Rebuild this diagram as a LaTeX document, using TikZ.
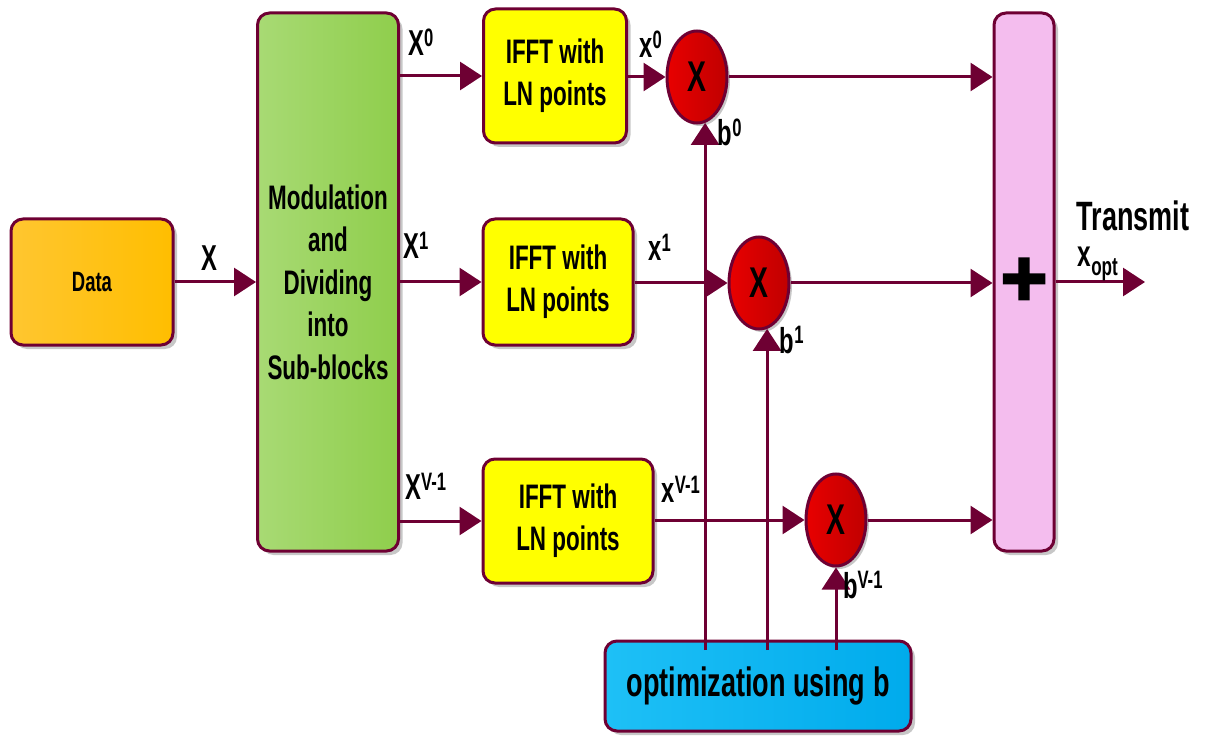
\documentclass[tikz,border=0pt]{standalone}
\usepackage{fontspec}
\setmainfont{Liberation Sans}[FakeStretch=0.66]
\newfontfamily\plusfont{Liberation Sans}[FakeBold=3]
\usetikzlibrary{arrows.meta,shapes.geometric,shadows}
\definecolor{mar}{HTML}{6E0033}
\definecolor{dataL}{HTML}{FFC630}
\definecolor{dataR}{HTML}{FFBE00}
\definecolor{modL}{HTML}{A8DA74}
\definecolor{modR}{HTML}{8FCE4C}
\definecolor{ifft}{HTML}{FFFF00}
\definecolor{mulL}{HTML}{E80000}
\definecolor{mulR}{HTML}{C00000}
\definecolor{sumc}{HTML}{F4BDEE}
\definecolor{optL}{HTML}{1EC0F6}
\definecolor{optR}{HTML}{00ABEC}
\newcommand{\fs}[1]{\fontsize{#1}{#1}\selectfont\bfseries}
\tikzset{
  blk/.style={draw=mar, line width=3pt, rounded corners=12pt, align=center, inner sep=0pt,
    drop shadow={shadow xshift=4pt, shadow yshift=-4pt, fill=black!22, opacity=1}},
  mul/.style={ellipse, draw=mar, line width=3pt, inner sep=0pt, minimum width=60pt, minimum height=92pt,
    left color=mulL, right color=mulR, font=\fs{43},
    drop shadow={shadow xshift=3pt, shadow yshift=-3pt, fill=black!22, opacity=1}},
  arr/.style={draw=mar, line width=3pt, -{Triangle[length=22pt,width=28pt]}},
  lab/.style={inner sep=0pt, font=\fs{36}},
}
\begin{document}
\begin{tikzpicture}[x=1pt,y=-1pt]
\useasboundingbox (0,0) rectangle (1216,738);

% blocks
\node[blk, left color=dataL, right color=dataR, minimum width=162pt, minimum height=126pt, font=\fs{28}] (data) at (92,282) {Data};
\node[blk, left color=modL, right color=modR, minimum width=141pt, minimum height=538pt, font=\fs{34}] (mod) at (328,282)
  {Modulation\\[8.5pt]and\\[8.5pt]Dividing\\[8.5pt]into\\[8.5pt]Sub-blocks};
\node[blk, fill=ifft, minimum width=143pt, minimum height=134pt, font=\fs{34}] (f1) at (555,76) {IFFT with\\[8pt]LN points};
\node[blk, fill=ifft, minimum width=150pt, minimum height=126pt, font=\fs{34}] (f2) at (558,282) {IFFT with\\[8pt]LN points};
\node[blk, fill=ifft, minimum width=170pt, minimum height=124pt, font=\fs{34}] (f3) at (568,521) {IFFT with\\[8pt]LN points};
\node[blk, fill=sumc, minimum width=60pt, minimum height=538pt, font=\plusfont\fontsize{80}{80}\selectfont\bfseries] (sum) at (1024,282) {+};

\node[mul] (m1) at (697,77) {X};
\node[mul] (m2) at (759,283) {X};
\node[mul] (m3) at (836,520) {X};

\coordinate (out) at (1145,282);

\node[blk, left color=optL, right color=optR, minimum width=306pt, minimum height=90pt, font=\fs{41}] (opt) at (758,686) {optimization using b};

% vertical control lines
\draw[arr] (m1.-80 |- 0,650) -- (m1.-80);
\draw[arr] (m2.-80 |- 0,650) -- (m2.-80);
\draw[arr] (m3.south |- 0,650) -- (m3.south);

% connectors
\draw[arr] (data) -- (mod);
\draw[arr] (mod.east |- f1.west) -- (f1.west);
\draw[arr] (mod.east |- f2.west) -- (f2.west);
\draw[arr] (mod.east |- f3.west) -- (f3.west);
\draw[arr] (f1.east |- m1.west) -- (m1.west);
\draw[arr] (f2.east |- m2.west) -- (m2.west);
\draw[arr] (f3.east |- m3.west) -- (m3.west);
\draw[arr] (m1.east) -- (m1.east -| sum.west);
\draw[arr] (m2.east) -- (m2.east -| sum.west);
\draw[arr] (m3.east) -- (m3.east -| sum.west);
\draw[arr] (sum.east) -- (out);

% labels
\node[lab] (lx) at (209,258) {X};
\node[lab] (lX0) at (421,42) {X\textsuperscript{0}};
\node[lab] (lX1) at (416,245) {X\textsuperscript{1}};
\node[lab] (lXV) at (426,486) {X\textsuperscript{V-1}};
\node[lab] (lx0) at (651,44) {x\textsuperscript{0}};
\node[lab] (lx1) at (660,247) {x\textsuperscript{1}};
\node[lab] (lxV) at (681,489) {x\textsuperscript{V-1}};
\node[lab] (lb0) at (730,132) {b\textsuperscript{0}};
\node[lab] (lb1) at (792,340) {b\textsuperscript{1}};
\node[lab] (lbV) at (863,585) {b\textsuperscript{V-1}};
\node[lab, font=\fs{41}] (ltr) at (1133,216) {Transmit};
\node[lab, font=\fs{37}] (lxo) at (1098,264) {x\textsubscript{opt}};
\end{tikzpicture}
\end{document}
